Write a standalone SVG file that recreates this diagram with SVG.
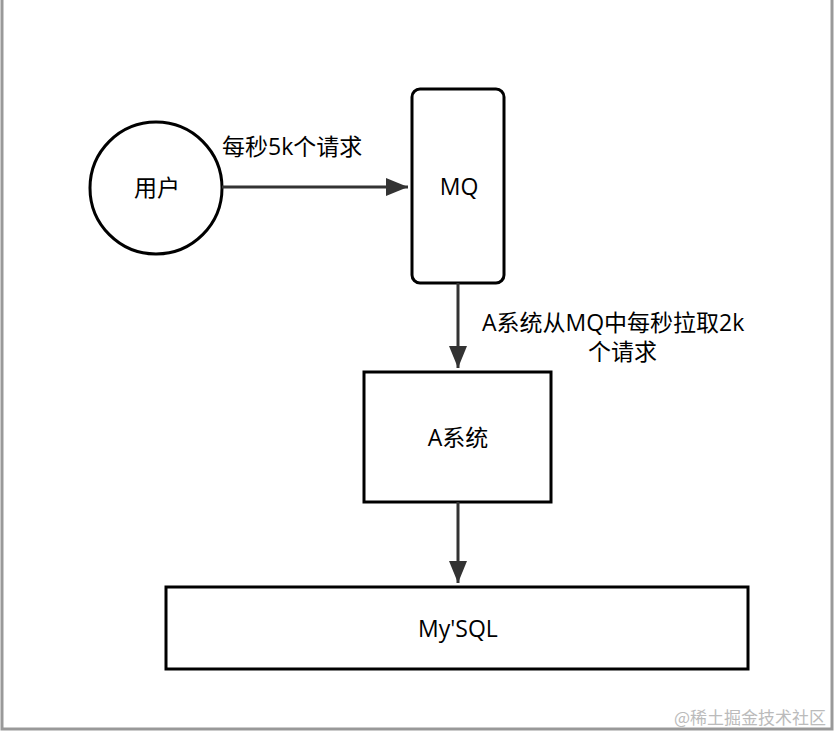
<svg xmlns="http://www.w3.org/2000/svg" width="834" height="736" viewBox="0 0 834 736">
<defs>
<style>
.n{fill:#fff;stroke:#000;stroke-width:3}
.t{font-family:"Open Sans","Noto Sans CJK SC",sans-serif;font-size:23px;fill:#000}
.e{stroke:#333;stroke-width:3;fill:none}
</style>
<marker id="b" markerWidth="22" markerHeight="22" refX="22" refY="11" orient="auto" markerUnits="userSpaceOnUse" viewBox="0 0 22 22"><path d="M0,2L22,11L0,20z" fill="#333"/></marker>
</defs>
<rect x="0" y="0" width="834" height="736" fill="#fff"/>
<path d="M2,0V729H832V0" fill="none" stroke="#999" stroke-width="3"/>
<g id="user"><circle class="n" cx="156" cy="188" r="66"/><text class="t" x="157" y="196" text-anchor="middle">用户</text></g>
<g id="mq"><rect class="n" x="412" y="89" width="92" height="194" rx="8"/><text class="t" x="459" y="195" text-anchor="middle">MQ</text></g>
<g id="asys"><rect class="n" x="364" y="372" width="187" height="130"/><text class="t" x="458" y="446" text-anchor="middle">A系统</text></g>
<g id="mysql"><rect class="n" x="166" y="587" width="582" height="82"/><text class="t" x="458" y="637" text-anchor="middle">My'SQL</text></g>
<g id="edges">
<path class="e" d="M222,187H408" marker-end="url(#b)"/>
<path class="e" d="M458,283V368" marker-end="url(#b)"/>
<path class="e" d="M458,502V583" marker-end="url(#b)"/>
</g>
<text class="t" x="222" y="155">每秒5k个请求</text>
<text class="t" x="482" y="331">A系统从MQ中每秒拉取2k</text>
<text class="t" x="588" y="360">个请求</text>
<text x="826" y="724" text-anchor="end" font-family="'Noto Sans CJK SC',sans-serif" font-size="17" fill="#bbb">@稀土掘金技术社区</text>
</svg>
